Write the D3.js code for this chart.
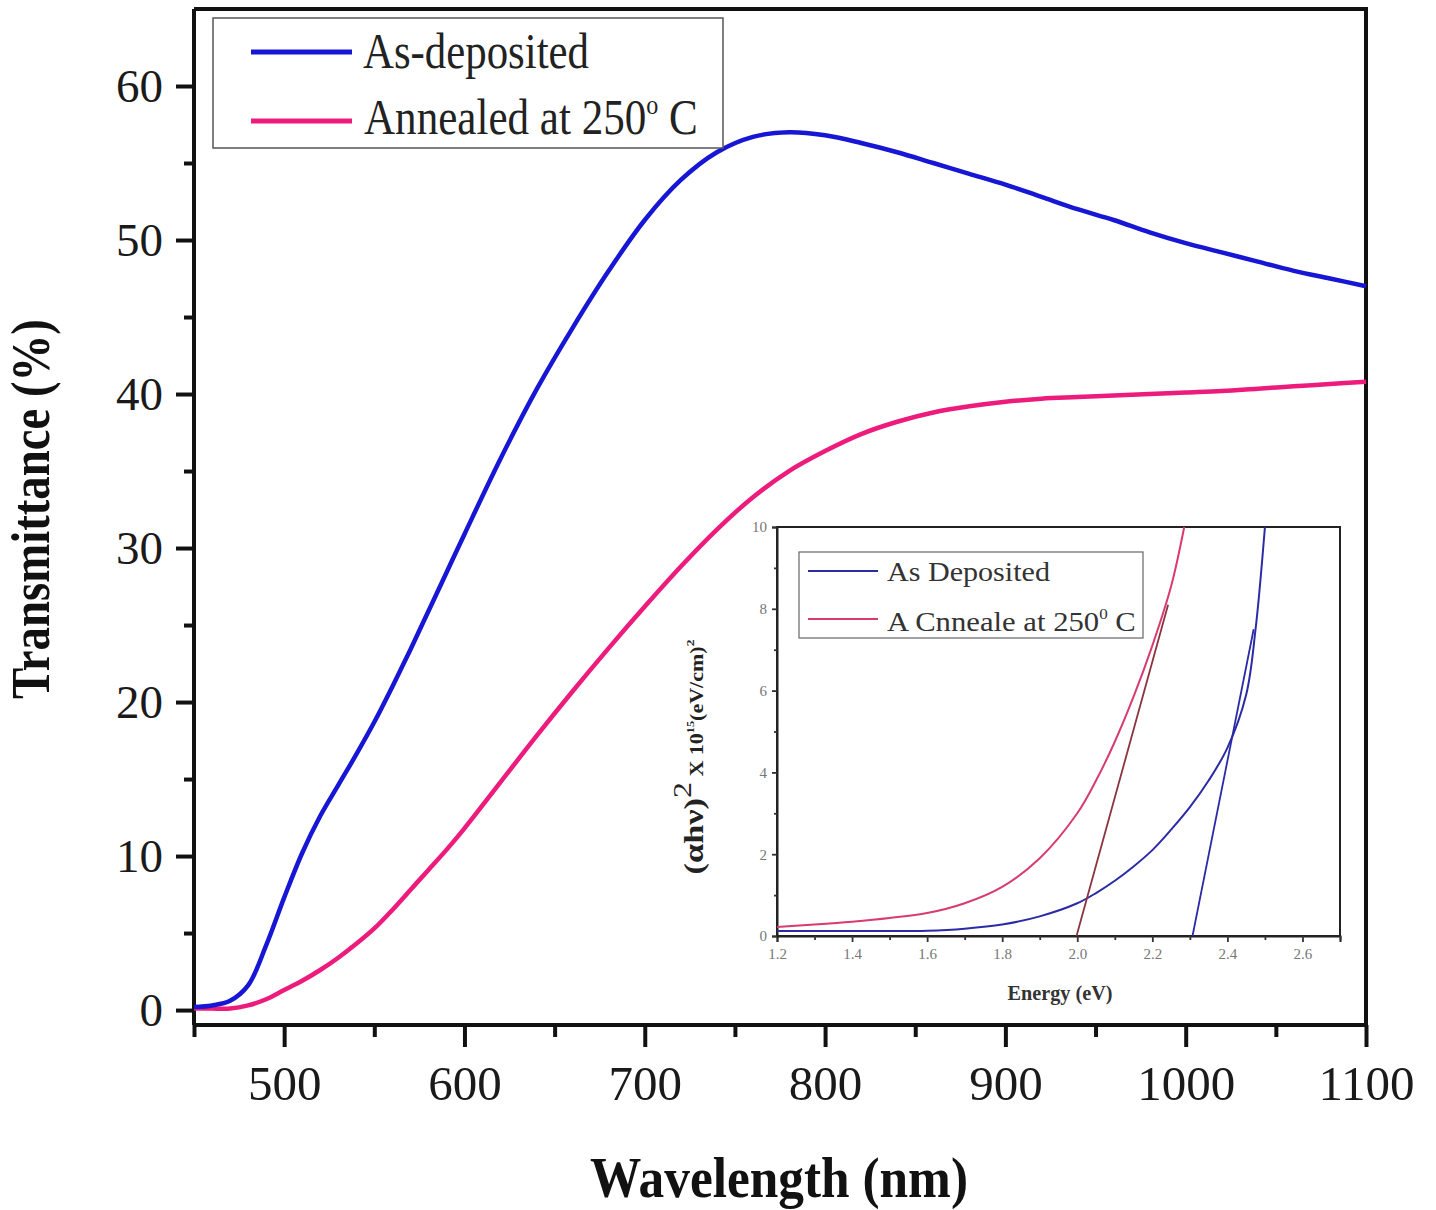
<!DOCTYPE html>
<html>
<head>
<meta charset="utf-8">
<script src="https://cdn.jsdelivr.net/npm/d3@7"></script>
<style>
  html, body { margin: 0; padding: 0; background: #fff; }
  svg { display: block; }
  text { font-family: "Liberation Serif", "Times New Roman", serif; }
</style>
</head>
<body>
<svg id="chart" width="1436" height="1210"></svg>
<script>
// ---------------- Main chart data ----------------
const wavelength = [450,460,470,480,490,500,510,520,530,540,550,560,570,580,590,600,620,640,660,680,700,720,740,760,780,800,820,840,860,880,900,920,940,960,980,1000,1020,1040,1060,1080,1100];
const asDeposited = [0.2,0.3,0.6,1.6,4.2,7.3,10.2,12.6,14.6,16.6,18.7,21.0,23.4,25.9,28.4,30.9,35.8,40.3,44.3,48.0,51.3,53.9,55.7,56.7,57.0,56.8,56.3,55.7,55.0,54.3,53.6,52.8,52.0,51.3,50.5,49.8,49.2,48.6,48.0,47.5,47.0];
const annealed = [0.1,0.1,0.1,0.3,0.7,1.3,1.9,2.6,3.4,4.3,5.3,6.5,7.8,9.1,10.4,11.8,14.8,17.8,20.7,23.5,26.2,28.8,31.2,33.3,35.0,36.3,37.4,38.2,38.8,39.2,39.5,39.7,39.8,39.9,40.0,40.1,40.2,40.35,40.5,40.65,40.8];
const xMajorTicks = [500,600,700,800,900,1000,1100];
const xMinorTicks = [450,550,650,750,850,950,1050];
const yMajorTicks = [0,10,20,30,40,50,60];
const yMinorTicks = [5,15,25,35,45,55];
const seriesNames = ["As-deposited", "Annealed at 250"];

// ---------------- Inset data ----------------
const energyBlue = [1.2,1.3,1.4,1.5,1.6,1.7,1.8,1.9,2.0,2.05,2.1,2.15,2.2,2.25,2.3,2.35,2.4,2.45,2.475,2.5];
const insetBlue = [0.12,0.12,0.12,0.12,0.13,0.18,0.28,0.48,0.8,1.05,1.35,1.7,2.1,2.6,3.15,3.8,4.6,5.9,7.5,10];
const energyPink = [1.2,1.3,1.4,1.5,1.6,1.7,1.8,1.9,2.0,2.05,2.1,2.15,2.2,2.25,2.285];
const insetPink = [0.22,0.28,0.35,0.44,0.56,0.8,1.2,1.9,3.0,3.8,4.75,5.85,7.1,8.55,10];
const fitPinkE = [1.998, 2.242];
const fitPinkY = [0, 8.1];
const fitBlueE = [2.307, 2.47];
const fitBlueY = [0, 7.5];
const insetXMajor = [1.2,1.4,1.6,1.8,2.0,2.2,2.4,2.6];
const insetXMinor = [1.3,1.5,1.7,1.9,2.1,2.3,2.5,2.7];
const insetYMajor = [0,2,4,6,8,10];
const insetYMinor = [1,3,5,7,9];
const insetNames = ["As Deposited", "A Cnneale at 250"];

// ---------------- Styles ----------------
const BLUE = "#1616d4", PINK = "#ec1b7c";
const IBLUE = "#2b2ba6", IPINK = "#d83a72", IFIT = "#8a3440";

const svg = d3.select("#chart");

// helper: scale text horizontally to a target width
function fit(sel, x, y, target, rot) {
  const len = sel.node().getComputedTextLength();
  const k = target / len;
  sel.attr("x", 0).attr("y", 0)
     .attr("transform", `translate(${x},${y})` + (rot ? ` rotate(${rot})` : "") + ` scale(${k},1)`);
  return sel;
}

// ---------------- Main scales ----------------
const x = d3.scaleLinear().domain([450, 1100]).range([194, 1366]);
const y = d3.scaleLinear().domain([-0.97, 65.0]).range([1025, 9]);

// frame top & right
svg.append("path")
  .attr("d", `M${x(450)},${y(65.0)} H${x(1100)} V${y(-0.97)}`)
  .attr("fill", "none").attr("stroke", "#111").attr("stroke-width", 4);

// axes
const xAxis = svg.append("g").attr("transform", `translate(0,${y(-0.97)})`)
  .call(d3.axisBottom(x).tickValues(xMajorTicks).tickSize(22).tickPadding(18).tickFormat(d3.format("d")));
svg.append("g").attr("transform", `translate(0,${y(-0.97)})`)
  .call(d3.axisBottom(x).tickValues(xMinorTicks).tickSize(12).tickFormat(""))
  .call(g => g.select(".domain").remove());
const yAxis = svg.append("g").attr("transform", `translate(${x(450)},0)`)
  .call(d3.axisLeft(y).tickValues(yMajorTicks).tickSize(18).tickPadding(13).tickFormat(d3.format("d")));
svg.append("g").attr("transform", `translate(${x(450)},0)`)
  .call(d3.axisLeft(y).tickValues(yMinorTicks).tickSize(10).tickFormat(""))
  .call(g => g.select(".domain").remove());

svg.selectAll(".domain").attr("stroke", "#111").attr("stroke-width", 4);
svg.selectAll(".tick line").attr("stroke", "#111").attr("stroke-width", 4);
xAxis.selectAll(".domain").attr("d", `M${x(450)},0H${x(1100)}`);
yAxis.selectAll(".domain").attr("d", `M0,${y(65.0)}V${y(-0.97)}`);
xAxis.selectAll("text").attr("font-size", 49).attr("fill", "#1a1a1a")
  .attr("font-family", "Liberation Serif");
yAxis.selectAll("text").attr("font-size", 47).attr("fill", "#1a1a1a")
  .attr("font-family", "Liberation Serif");

// axis titles
fit(svg.append("text").attr("font-size", 56).attr("font-weight", "bold")
  .attr("text-anchor", "middle").attr("fill", "#111").text("Wavelength (nm)"), 779, 1197, 378);
fit(svg.append("text").attr("font-size", 54).attr("font-weight", "bold")
  .attr("text-anchor", "middle").attr("fill", "#111").text("Transmittance (%)"), 49, 509, 380, -90);

// main lines
const line = d3.line().x((d, i) => x(wavelength[i])).y(d => y(d)).curve(d3.curveCatmullRom.alpha(0.5));
svg.append("path").datum(annealed).attr("d", line)
  .attr("fill", "none").attr("stroke", PINK).attr("stroke-width", 4.5);
svg.append("path").datum(asDeposited).attr("d", line)
  .attr("fill", "none").attr("stroke", BLUE).attr("stroke-width", 4.5);

// main legend
svg.append("rect").attr("x", 213).attr("y", 18).attr("width", 510).attr("height", 130)
  .attr("fill", "#fff").attr("stroke", "#555").attr("stroke-width", 1.5);
svg.append("line").attr("x1", 251).attr("x2", 352).attr("y1", 52).attr("y2", 52)
  .attr("stroke", BLUE).attr("stroke-width", 5);
svg.append("line").attr("x1", 251).attr("x2", 352).attr("y1", 121).attr("y2", 121)
  .attr("stroke", PINK).attr("stroke-width", 5);
fit(svg.append("text").attr("font-size", 50).attr("fill", "#222").text(seriesNames[0]), 363, 68, 226);
{
  const t = svg.append("text").attr("font-size", 50).attr("fill", "#222");
  t.append("tspan").text(seriesNames[1]);
  t.append("tspan").attr("font-size", 28).attr("dy", -20).text("o");
  t.append("tspan").attr("dy", 20).text(" C");
  fit(t, 364, 134, 334);
}

// ---------------- Inset ----------------
const xi = d3.scaleLinear().domain([1.2, 2.7]).range([777, 1340]);
const yi = d3.scaleLinear().domain([0, 10]).range([936, 527]);

svg.append("rect").attr("x", xi(1.2)).attr("y", yi(10))
  .attr("width", xi(2.7) - xi(1.2)).attr("height", yi(0) - yi(10))
  .attr("fill", "#fff").attr("stroke", "#222").attr("stroke-width", 2);

const ixAxis = svg.append("g").attr("transform", `translate(0,${yi(0)})`)
  .call(d3.axisBottom(xi).tickValues(insetXMajor).tickSize(6).tickPadding(6).tickFormat(d3.format(".1f")));
const ixMinor = svg.append("g").attr("transform", `translate(0,${yi(0)})`)
  .call(d3.axisBottom(xi).tickValues(insetXMinor).tickSize(4).tickFormat(""))
  .call(g => g.select(".domain").remove());
const iyAxis = svg.append("g").attr("transform", `translate(${xi(1.2)},0)`)
  .call(d3.axisLeft(yi).tickValues(insetYMajor).tickSize(5).tickPadding(5).tickFormat(d3.format("d")));
const iyMinor = svg.append("g").attr("transform", `translate(${xi(1.2)},0)`)
  .call(d3.axisLeft(yi).tickValues(insetYMinor).tickSize(3).tickFormat(""))
  .call(g => g.select(".domain").remove());
[ixAxis, iyAxis].forEach(g => g.select(".domain").attr("stroke", "#222").attr("stroke-width", 2));
[ixAxis, ixMinor, iyAxis, iyMinor].forEach(g => g.selectAll(".tick line").attr("stroke", "#333").attr("stroke-width", 1.8));
ixAxis.selectAll("text").attr("font-size", 15).attr("fill", "#777").attr("font-family", "Liberation Serif");
iyAxis.selectAll("text").attr("font-size", 15).attr("fill", "#777").attr("font-family", "Liberation Serif");

fit(svg.append("text").attr("font-size", 21).attr("font-weight", "bold")
  .attr("text-anchor", "middle").attr("fill", "#333").text("Energy (eV)"), 1060, 1000, 105);
{
  const t = svg.append("text").attr("text-anchor", "middle").attr("fill", "#222").attr("font-weight", "bold");
  t.append("tspan").attr("font-size", 28).text("(αhν)");
  t.append("tspan").attr("font-size", 26).attr("font-weight", "normal").attr("dy", -12).text("2");
  t.append("tspan").attr("font-size", 18).attr("dy", 12).text(" X  10");
  t.append("tspan").attr("font-size", 10).attr("dy", -9).text("15");
  t.append("tspan").attr("font-size", 18).attr("dy", 9).text("(eV/cm)");
  t.append("tspan").attr("font-size", 11).attr("dy", -9).text("2");
  fit(t, 703, 757, 235, -90);
}

const lineB = d3.line().x((d, i) => xi(energyBlue[i])).y(d => yi(d)).curve(d3.curveCatmullRom.alpha(0.5));
const lineP = d3.line().x((d, i) => xi(energyPink[i])).y(d => yi(d)).curve(d3.curveCatmullRom.alpha(0.5));
const lineFP = d3.line().x((d, i) => xi(fitPinkE[i])).y(d => yi(d));
const lineFB = d3.line().x((d, i) => xi(fitBlueE[i])).y(d => yi(d));
svg.append("path").datum(insetPink).attr("d", lineP).attr("fill", "none").attr("stroke", IPINK).attr("stroke-width", 2);
svg.append("path").datum(insetBlue).attr("d", lineB).attr("fill", "none").attr("stroke", IBLUE).attr("stroke-width", 2);
svg.append("path").datum(fitPinkY).attr("d", lineFP).attr("fill", "none").attr("stroke", IFIT).attr("stroke-width", 1.8);
svg.append("path").datum(fitBlueY).attr("d", lineFB).attr("fill", "none").attr("stroke", IBLUE).attr("stroke-width", 1.8);

// inset legend
svg.append("rect").attr("x", 799).attr("y", 552).attr("width", 344).attr("height", 86)
  .attr("fill", "#fff").attr("stroke", "#666").attr("stroke-width", 1.2);
svg.append("line").attr("x1", 808).attr("x2", 878).attr("y1", 571).attr("y2", 571)
  .attr("stroke", IBLUE).attr("stroke-width", 2);
svg.append("line").attr("x1", 808).attr("x2", 878).attr("y1", 619).attr("y2", 619)
  .attr("stroke", IPINK).attr("stroke-width", 2);
fit(svg.append("text").attr("font-size", 27).attr("fill", "#333").text(insetNames[0]), 887, 581, 163);
{
  const t = svg.append("text").attr("font-size", 27).attr("fill", "#333");
  t.append("tspan").text(insetNames[1]);
  t.append("tspan").attr("font-size", 15).attr("dy", -12).text("0");
  t.append("tspan").attr("dy", 12).text(" C");
  fit(t, 887, 631, 249);
}
</script>
</body>
</html>
